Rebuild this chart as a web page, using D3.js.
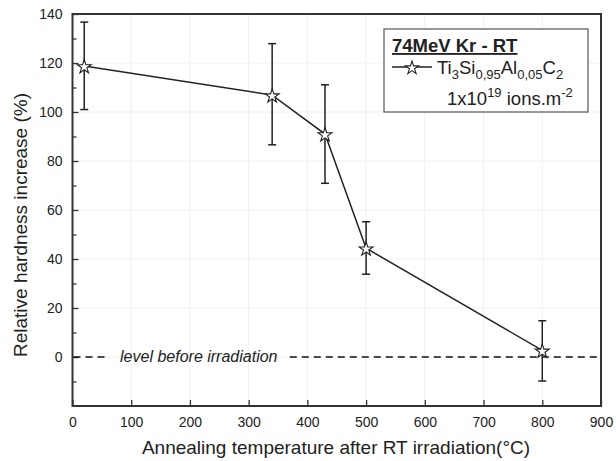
<!DOCTYPE html>
<html><head><meta charset="utf-8">
<script src="https://cdn.jsdelivr.net/npm/d3@7/dist/d3.min.js"></script>
<style>body{margin:0;background:#fff}svg{display:block}text{font-family:"Liberation Sans",Arial,sans-serif;fill:#222}</style>
</head><body><svg id="c" width="616" height="461"></svg>
<script>
const temps = [20, 340, 430, 500, 800];
const hardness = [118.8, 106.9, 91, 44.4, 2.7];
const errLow = [101, 86.6, 70.9, 33.8, -9.8];
const errHigh = [136.7, 127.9, 111.1, 55.2, 14.8];
const xTicks = [0,100,200,300,400,500,600,700,800,900];
const yTicks = [0,20,40,60,80,100,120,140];
const yMinor = [-10,10,30,50,70,90,110,130];

const svg = d3.select("#c");
const L=72.5,R=601,T=14,B=406;
const x = d3.scaleLinear().domain([0,900]).range([L,R]);
const y = d3.scaleLinear().domain([-20,140]).range([B,T]);

// grid
svg.append("g").selectAll("line").data(xTicks.slice(1,-1)).join("line")
  .attr("x1",d=>x(d)).attr("x2",d=>x(d)).attr("y1",T).attr("y2",B)
  .attr("stroke","#f0f0f0").attr("stroke-width",1);
svg.append("g").selectAll("line").data(yTicks.filter(d=>d<140)).join("line")
  .attr("x1",L).attr("x2",R).attr("y1",d=>y(d)).attr("y2",d=>y(d))
  .attr("stroke","#f0f0f0").attr("stroke-width",1);

// axes with inward ticks
const xa = svg.append("g").attr("transform",`translate(0,${B})`)
  .call(d3.axisBottom(x).tickValues(xTicks).tickSizeInner(-6).tickSizeOuter(0).tickPadding(11));
const ya = svg.append("g").attr("transform",`translate(${L},0)`)
  .call(d3.axisLeft(y).tickValues(yTicks).tickSizeInner(-6).tickSizeOuter(0).tickPadding(10));
svg.append("g").attr("transform",`translate(${L},0)`)
  .call(d3.axisLeft(y).tickValues(yMinor).tickSizeInner(-4).tickSizeOuter(0).tickFormat(""))
  .select(".domain").remove();
[xa,ya].forEach(a=>{a.selectAll("text").attr("font-size",14).style("font-family","Liberation Sans, Arial").attr("fill","#222");
  a.select(".domain").remove();});
svg.selectAll(".tick line").attr("stroke","#333").attr("stroke-width",1.3);

// frame
svg.append("rect").attr("x",L).attr("y",T).attr("width",R-L).attr("height",B-T)
  .attr("fill","none").attr("stroke","#333").attr("stroke-width",2);

// reference dashed line at 0
svg.append("line").attr("x1",L+1).attr("x2",x(55)).attr("y1",y(0)).attr("y2",y(0))
  .attr("stroke","#111").attr("stroke-width",1.4).attr("stroke-dasharray","7,5");
svg.append("line").attr("x1",x(370)).attr("x2",R-1).attr("y1",y(0)).attr("y2",y(0))
  .attr("stroke","#111").attr("stroke-width",1.4).attr("stroke-dasharray","7,5");
svg.append("text").attr("x",x(81)).attr("y",y(0)+5).attr("font-size",16).attr("font-style","italic")
  .text("level before irradiation");

// error bars
const eb = svg.append("g").attr("stroke","#222").attr("stroke-width",1.5);
temps.forEach((t,i)=>{
  eb.append("line").attr("x1",x(t)).attr("x2",x(t)).attr("y1",y(errLow[i])).attr("y2",y(errHigh[i]));
  [errLow[i],errHigh[i]].forEach(v=>eb.append("line").attr("x1",x(t)-4).attr("x2",x(t)+4).attr("y1",y(v)).attr("y2",y(v)));
});

// line
svg.append("path").datum(temps.map((t,i)=>[t,hardness[i]]))
  .attr("d",d3.line().x(d=>x(d[0])).y(d=>y(d[1])))
  .attr("fill","none").attr("stroke","#222").attr("stroke-width",1.5);

// stars
const star = d3.symbol().type(d3.symbolStar).size(60);
svg.append("g").selectAll("path").data(temps).join("path")
  .attr("d",star).attr("transform",(d,i)=>`translate(${x(d)},${y(hardness[i])+1})`)
  .attr("fill","#fff").attr("stroke","#222").attr("stroke-width",1.1);

// axis titles
svg.append("text").attr("x",336).attr("y",454).attr("text-anchor","middle").attr("font-size",19)
  .text("Annealing temperature after RT irradiation(°C)");
svg.append("text").attr("transform","translate(27,225) rotate(-90)").attr("text-anchor","middle").attr("font-size",19)
  .text("Relative hardness increase (%)");

// legend
const lg = svg.append("g");
lg.append("rect").attr("x",384).attr("y",29).attr("width",204).attr("height",83)
  .attr("fill","#fff").attr("stroke","#555").attr("stroke-width",1.2);
lg.append("text").attr("x",392).attr("y",52).attr("font-size",18.5).attr("font-weight","bold")
  .attr("text-decoration","underline").text("74MeV Kr - RT");
lg.append("line").attr("x1",392).attr("x2",432).attr("y1",67).attr("y2",67).attr("stroke","#222").attr("stroke-width",1.5);
lg.append("path").attr("d",d3.symbol().type(d3.symbolStar).size(55)).attr("transform","translate(412,68)")
  .attr("fill","#fff").attr("stroke","#222").attr("stroke-width",1.1);
const t1 = lg.append("text").attr("x",437).attr("y",74).attr("font-size",18.5);
const parts = [["Ti",0],["3",1],["Si",0],["0,95",1],["Al",0],["0,05",1],["C",0],["2",1]];
let prevSub=false;
parts.forEach(([s,sub])=>{
  const ts = t1.append("tspan").text(s);
  if(sub){ts.attr("font-size",13).attr("dy",5);} else if(prevSub){ts.attr("dy",-5);}
  prevSub=!!sub;
});
const t2 = lg.append("text").attr("x",447).attr("y",105).attr("font-size",18.5);
t2.append("tspan").text("1x10");
t2.append("tspan").attr("font-size",13).attr("dy",-8).text("19");
t2.append("tspan").attr("dy",8).text(" ions.m");
t2.append("tspan").attr("font-size",13).attr("dy",-8).text("-2");
</script></body></html>
